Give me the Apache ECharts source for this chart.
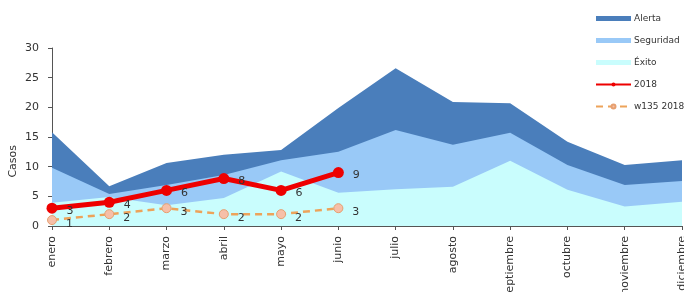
<!DOCTYPE html>
<html>
<head>
<meta charset="utf-8">
<script src="https://cdn.jsdelivr.net/npm/echarts@6/dist/echarts.min.js"></script>
<style>
  html, body { margin: 0; padding: 0; background: #fff; }
  #main { width: 684px; height: 292px; }
</style>
</head>
<body>
<div id="main"></div>
<script>
var meses = ["enero", "febrero", "marzo", "abril", "mayo", "junio", "julio",
    "agosto", "septiembre", "octubre", "noviembre", "diciembre"];

// canal endemico
var alerta = [15.8, 6.7, 10.6, 12.0, 12.8, 19.9, 26.6, 20.9, 20.7, 14.2, 10.3, 11.1];
var seguridad = [9.8, 5.4, 6.9, 8.6, 11.1, 12.5, 16.2, 13.7, 15.7, 10.3, 6.9, 7.6];
var exito = [3.9, 4.9, 3.5, 4.7, 9.2, 5.6, 6.2, 6.6, 11.0, 6.1, 3.3, 4.1];

var casos2018 = [3, 4, 6, 8, 6, 9];
var w135 = [1, 2, 3, 2, 2, 3];

var chart = echarts.init(document.getElementById("main"));

var fuente = "DejaVu Sans";

function area(nombre, datos, color) {
    return {
        name: nombre,
        type: "line",
        data: datos,
        symbol: "none",
        lineStyle: { width: 0 },
        itemStyle: { color: color },
        areaStyle: { color: color, opacity: 1 },
        emphasis: { disabled: true }
    };
}

var option = {
    animation: false,
    textStyle: { fontFamily: fuente },
    grid: { left: 52, right: 2, top: 48, bottom: 66, containLabel: false, outerBoundsMode: "none" },
    legend: {
        orient: "vertical",
        left: 590,
        top: 9,
        padding: 5,
        itemGap: 13,
        itemWidth: 35,
        itemHeight: 5,
        textStyle: { fontSize: 9, color: "#333", fontFamily: fuente, padding: [0, 0, 0, -2] },
        data: [
            { name: "Alerta", icon: "rect" },
            { name: "Seguridad", icon: "rect" },
            { name: "Éxito", icon: "rect" },
            { name: "2018" },
            { name: "w135 2018" }
        ]
    },
    xAxis: {
        type: "category",
        data: meses,
        boundaryGap: false,
        axisLine: { lineStyle: { color: "#555" } },
        axisTick: { alignWithLabel: true, length: 4, lineStyle: { color: "#555" } },
        axisLabel: {
            rotate: 90,
            interval: 0,
            fontSize: 11,
            color: "#333",
            margin: 10
        }
    },
    yAxis: {
        type: "value",
        min: 0,
        max: 30,
        interval: 5,
        splitLine: { show: false },
        axisLine: { show: true, lineStyle: { color: "#555" } },
        axisTick: { show: true, length: 4, lineStyle: { color: "#555" } },
        axisLabel: { fontSize: 11, color: "#333", margin: 13 }
    },
    graphic: [{
        type: "text",
        left: 8,
        top: 145,
        rotation: Math.PI / 2,
        style: { text: "Casos", fontSize: 11, fill: "#333", fontFamily: fuente }
    }],
    series: [
        area("Alerta", alerta, "#4a7ebb"),
        area("Seguridad", seguridad, "#99c9f7"),
        area("Éxito", exito, "#c9fdfd"),
        {
            name: "2018",
            type: "line",
            data: casos2018,
            symbol: "circle",
            symbolSize: 11,
            lineStyle: { color: "#ee0000", width: 5 },
            itemStyle: { color: "#ee0000" },
            label: { show: true, position: "right", distance: 9, fontSize: 11, color: "#333", offset: [0, 3] },
            z: 5
        },
        {
            name: "w135 2018",
            type: "line",
            data: w135,
            symbol: "circle",
            symbolSize: 9,
            lineStyle: { color: "#eda35a", width: 2.5, type: [7, 5] },
            itemStyle: { color: "#f6bfa8", borderColor: "#e6a070", borderWidth: 1 },
            label: { show: true, position: "right", distance: 9, fontSize: 11, color: "#333", offset: [0, 4] },
            z: 4
        }
    ]
};

chart.setOption(option);
</script>
</body>
</html>
